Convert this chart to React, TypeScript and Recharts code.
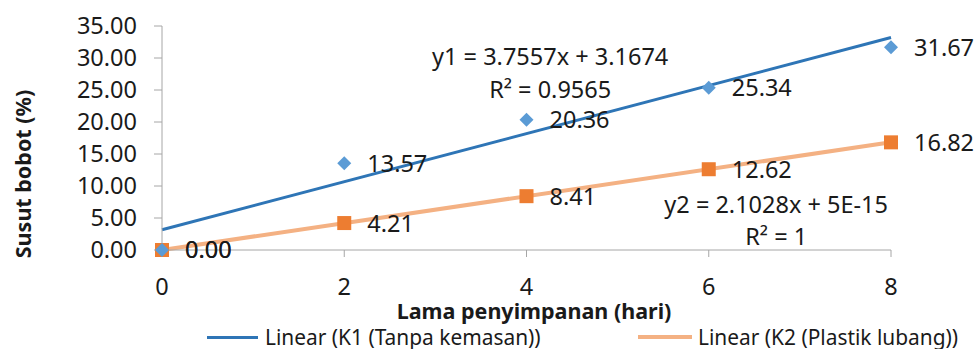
import React from "react";
import {
  ComposedChart, Line, XAxis, YAxis, LabelList, Label, ReferenceDot,
} from "recharts";

// storage days
const days = [0, 2, 4, 6, 8];
// weight loss (%) per treatment
const k1Values = [0, 13.57, 20.36, 25.34, 31.67];
const k2Values = [0, 4.21, 8.41, 12.62, 16.82];
// linear trendline end values (x = 0 and x = 8)
const trendK1 = [3.1674, 33.2130];
const trendK2 = [0, 16.8224];
const yTicks = [0, 5, 10, 15, 20, 25, 30, 35];
const xTicks = [0, 2, 4, 6, 8];

const seriesNames = ["Linear (K1 (Tanpa kemasan))", "Linear (K2 (Plastik lubang))"];
const equations = [
  { text: "y1 = 3.7557x + 3.1674", x: 4.26, y: 30.15 },
  { text: "R² = 0.9565", x: 4.26, y: 25.0 },
  { text: "y2 = 2.1028x + 5E-15", x: 6.74, y: 7.1 },
  { text: "R² = 1", x: 6.74, y: 2.05 },
];

const data = days.map((d, i) => ({
  x: d,
  k1: k1Values[i],
  k2: k2Values[i],
  t1: i === 0 ? trendK1[0] : i === days.length - 1 ? trendK1[1] : null,
  t2: i === 0 ? trendK2[0] : i === days.length - 1 ? trendK2[1] : null,
}));

const FONT = "'Noto Sans', sans-serif";
const TEXT = "#1a1a1a";
const AXIS = "#A6A6A6";
const BLUE_MARK = "#5B9BD5";
const ORANGE_MARK = "#ED7D31";
const BLUE_LINE = "#2E75B6";
const ORANGE_LINE = "#F4B183";

const Diamond = (p: any) => {
  const { cx, cy } = p;
  if (cx == null || cy == null) return null;
  const r = 7;
  return <path d={`M${cx},${cy - r}L${cx + r},${cy}L${cx},${cy + r}L${cx - r},${cy}Z`} fill={BLUE_MARK} />;
};

const Square = (p: any) => {
  const { cx, cy } = p;
  if (cx == null || cy == null) return null;
  const r = 7;
  return <rect x={cx - r} y={cy - r} width={2 * r} height={2 * r} fill={ORANGE_MARK} />;
};

const valueLabel = (p: any) => (
  <text x={p.x + 23} y={p.y} dy="0.36em" fill={TEXT} fontSize={23.5} fontFamily={FONT}>
    {Number(p.value).toFixed(2)}
  </text>
);

const legendRow: React.CSSProperties = {
  position: "absolute", top: 326, height: 22, lineHeight: "22px", display: "flex",
  alignItems: "center", fontSize: 20.9, color: TEXT, whiteSpace: "nowrap",
};

export default function App() {
  return (
    <div style={{ position: "absolute", left: 0, top: 0, width: 976, height: 349, background: "#fff", fontFamily: FONT, overflow: "hidden" }}>
      <ComposedChart width={976} height={349} data={data} margin={{ top: 26, right: 85, bottom: 19, left: 0 }}>
        <XAxis
          dataKey="x" type="number" domain={[0, 8]} ticks={xTicks} interval={0} height={80}
          stroke={AXIS} tickSize={7} tickMargin={21}
          tick={{ fill: TEXT, fontSize: 23.5, fontFamily: FONT }}
        >
          <Label
            content={() => (
              <text
                x={534} y={319} textAnchor="middle"
                fill={TEXT} fontSize={21.5} fontWeight="bold" fontFamily={FONT}
              >
                Lama penyimpanan (hari)
              </text>
            )}
          />
        </XAxis>
        <YAxis
          type="number" domain={[0, 35]} ticks={yTicks} interval={0} width={162}
          stroke={AXIS} tickSize={8} tickMargin={17}
          tickFormatter={(v) => Number(v).toFixed(2)}
          tick={{ fill: TEXT, fontSize: 23.5, fontFamily: FONT }}
        >
          <Label
            content={() => (
              <text
                x={23} y={174} transform="rotate(-90 23 174)" textAnchor="middle" dy="0.36em"
                fill={TEXT} fontSize={21.5} fontWeight="bold" fontFamily={FONT}
              >
                Susut bobot (%)
              </text>
            )}
          />
        </YAxis>

        <Line dataKey="k2" stroke="none" dot={<Square />} activeDot={false} isAnimationActive={false} legendType="none">
          <LabelList dataKey="k2" content={valueLabel} />
        </Line>
        <Line dataKey="k1" stroke="none" dot={<Diamond />} activeDot={false} isAnimationActive={false} legendType="none">
          <LabelList dataKey="k1" content={valueLabel} />
        </Line>
        <Line dataKey="t1" name={seriesNames[0]} stroke={BLUE_LINE} strokeWidth={3} dot={false} activeDot={false} connectNulls isAnimationActive={false} />
        <Line dataKey="t2" name={seriesNames[1]} stroke={ORANGE_LINE} strokeWidth={4} dot={false} activeDot={false} connectNulls isAnimationActive={false} />

        {equations.map((e) => (
          <ReferenceDot
            key={e.text} x={e.x} y={e.y} r={0} stroke="none" fill="none"
            label={{ value: e.text, position: "center", fill: TEXT, fontSize: 23.5, fontFamily: FONT }}
          />
        ))}
      </ComposedChart>

      <div style={{ ...legendRow, left: 207 }}>
        <span style={{ display: "inline-block", width: 51, height: 3, background: BLUE_LINE, marginRight: 7 }} />
        <span>{seriesNames[0]}</span>
      </div>
      <div style={{ ...legendRow, left: 638 }}>
        <span style={{ display: "inline-block", width: 54, height: 4, background: ORANGE_LINE, marginRight: 6 }} />
        <span>{seriesNames[1]}</span>
      </div>
    </div>
  );
}
